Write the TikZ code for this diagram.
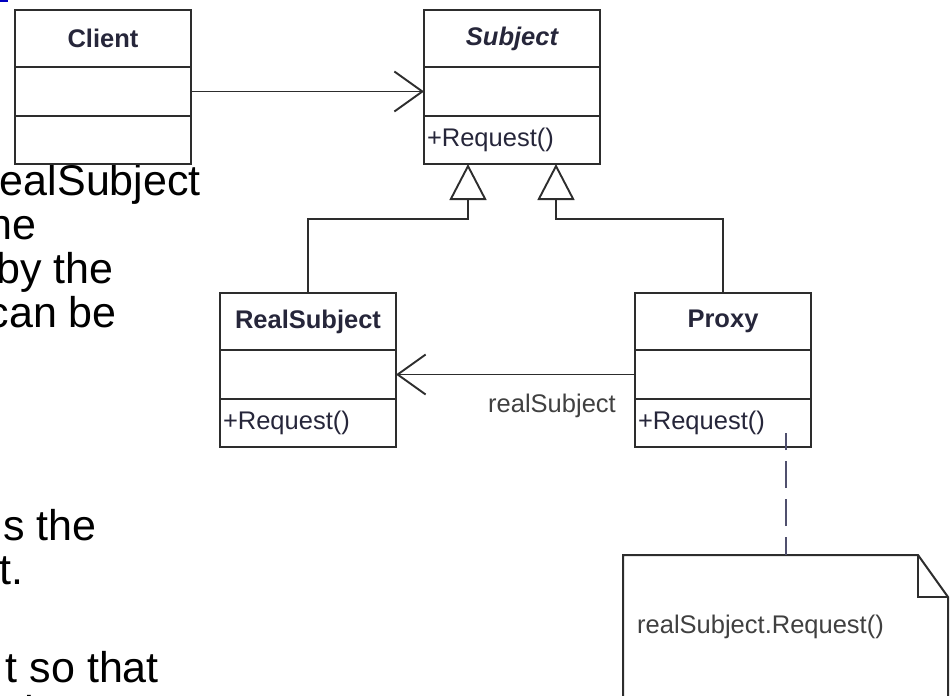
\documentclass[tikz,border=0pt]{standalone}
\usepackage{fontspec}
\setmainfont{Liberation Sans}
\usetikzlibrary{positioning,arrows.meta}

\definecolor{umlink}{RGB}{38,38,58}
\definecolor{umlline}{RGB}{45,45,45}
\definecolor{notedash}{RGB}{80,80,110}

\tikzset{
  classhead/.style={draw=umlline, line width=2.1pt, minimum width=176pt, minimum height=57pt,
    inner sep=0pt, outer sep=0pt, text=umlink, font=\fontsize{25.5}{28}\selectfont\bfseries},
  abstract/.style={font=\fontsize{25.5}{28}\selectfont\bfseries\itshape},
  classattr/.style={draw=umlline, line width=2.1pt, minimum width=176pt, minimum height=49pt,
    inner sep=0pt, outer sep=0pt},
  classops/.style={draw=umlline, line width=2.1pt, minimum width=176pt, minimum height=48pt,
    inner sep=0pt, outer sep=0pt, text width=170pt, align=left, text=umlink,
    font=\fontsize{25.5}{28}\selectfont},
  umltext/.style={inner sep=0pt, text=black!75, font=\fontsize{25.5}{28}\selectfont},
  assoc/.style={draw=umlline, line width=1.9pt, -{Straight Barb[length=28pt,width=40pt]}},
  gen/.style={draw=umlline, line width=1.9pt, -{Triangle[length=36pt,width=37pt,fill=white]}},
  noteline/.style={draw=umlline, line width=2pt},
  notelink/.style={draw=notedash, line width=1.9pt, dash pattern=on 27pt off 11pt, dash phase=9pt},
  slidetext/.style={inner sep=0pt, font=\fontsize{43}{44}\selectfont},
}

\begin{document}
\begin{tikzpicture}[x=1pt, y=-1pt]
    \useasboundingbox (0,0) rectangle (951,696);
    \clip (0,0) rectangle (951,696);

    % Slide text behind the diagram (cut off at the left)
    \fill[blue!75!black] (0,0) rectangle (8,2);
    \node[slidetext, anchor=base east] (line1) at (201,195) {ealSubject};
    \node[slidetext, anchor=base east] (line2) at (37,239) {he};
    \node[slidetext, anchor=base east] (line3) at (114,283) {by the};
    \node[slidetext, anchor=base east] (line4) at (117,327) {can be};
    \node[slidetext, anchor=base east] (line5) at (97,540) {s the};
    \node[slidetext, anchor=base east] (line6) at (24,584) {t.};
    \node[slidetext, anchor=base east] (line7) at (159,682) {t so that};
    \node[slidetext, anchor=base west] (line8) at (12,726) {th};

    % Client
    \node[classhead, anchor=north west] (client) at (15,10) {Client};
    \node[classattr, below=0pt of client] (clientAttr) {};
    \node[classops, below=0pt of clientAttr] (clientOps) {};

    % Subject
    \node[classhead, abstract, anchor=north west] (subject) at (424,10) {Subject};
    \node[classattr, below=0pt of subject] (subjectAttr) {};
    \node[classops, below=0pt of subjectAttr] (subjectOps) {+Request()};

    % RealSubject
    \node[classhead, anchor=north west] (real) at (220,293) {RealSubject};
    \node[classattr, below=0pt of real] (realAttr) {};
    \node[classops, below=0pt of realAttr] (realOps) {+Request()};

    % Proxy
    \node[classhead, anchor=north west] (proxy) at (635,293) {Proxy};
    \node[classattr, below=0pt of proxy] (proxyAttr) {};
    \node[classops, below=0pt of proxyAttr] (proxyOps) {+Request()};

    % Associations
    \draw[assoc] (clientAttr.east) -- (subjectAttr.west);
    \draw[assoc] (proxyAttr.west) -- (realAttr.east);
    \node[umltext, anchor=base east] (role) at (616,412) {realSubject};

    % Generalization
    \coordinate[xshift=-44pt] (genLeft) at (subjectOps.south);
    \coordinate[xshift=44pt] (genRight) at (subjectOps.south);
    \draw[gen] (real.north) -- ++(0,-74) -| (genLeft);
    \draw[gen] (proxy.north) -- ++(0,-74) -| (genRight);

    % Note
    \draw[noteline] (623,710) -- (623,555) -- (918,555) -- (948,597) -- (948,710);
    \draw[noteline] (918,555) -- (918,597) -- (948,597);
    \node[umltext, anchor=base west] (noteText) at (637,633) {realSubject.Request()};
    \coordinate (noteStart) at (786,433);
    \coordinate (noteTop) at (786,555);
    \draw[notelink] (noteTop) -- (noteStart);
\end{tikzpicture}
\end{document}
